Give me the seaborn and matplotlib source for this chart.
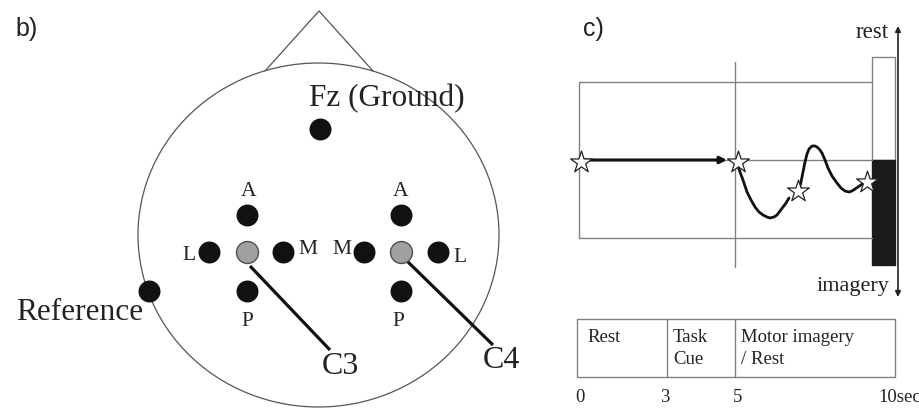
import matplotlib
matplotlib.use("Agg")
import matplotlib.pyplot as plt
from matplotlib.patches import Ellipse, Rectangle
import seaborn as sns

sns.set_theme(style="white")
plt.rcParams['font.family'] = ['Liberation Serif', 'DejaVu Serif']

# ---------------- data (pixel-space diagram) ----------------
# electrode positions (panel b)
black_x = [320, 247, 209, 283, 247, 401, 364, 438, 401, 149]
black_y = [129, 215, 252, 252, 291, 215, 252, 252, 291, 291]
center_x = [247, 401]
center_y = [252, 252]
elec_labels = ["A", "L", "M", "P", "A", "M", "L", "P"]
elec_lab_x = [249, 189, 308, 247, 401, 342, 460, 398]
elec_lab_y = [191, 256, 250, 321, 191, 250, 258, 321]

# panel c curve segments
seg1_x = [737, 740, 743, 747, 751, 755, 759, 763, 767, 770, 774, 777, 780, 783, 786, 789]
seg1_y = [163, 172, 180, 192, 200, 207, 212, 215, 217, 218, 217, 215, 211, 207, 203, 198]
seg2_x = [798, 800, 801, 803, 805, 807, 809, 812, 815, 817, 820, 822, 825, 828, 832, 837,
          841, 845, 849, 852, 855, 858, 861, 864]
seg2_y = [192, 186, 182, 172, 162, 154, 149, 146, 146, 147, 150, 153, 160, 168, 176, 183,
          188, 191, 192, 191, 189, 187, 185, 182]
star_x = [581, 738, 798, 867]
star_y = [162, 162, 191, 182]

# timeline
phase_labels = ["Rest", "Task\nCue", "Motor imagery\n/ Rest"]
tick_labels = ["0", "3", "5", "10sec"]

# ---------------- figure ----------------
fig = plt.figure(figsize=(9.2, 4.08), dpi=100)
ax = fig.add_axes([0, 0, 1, 1])
ax.set_xlim(0, 920)
ax.set_ylim(408, 0)
ax.axis('off')

txt = '#222222'

# ---- panel b ----
ax.text(15, 29, "b)", family=['Liberation Sans', 'DejaVu Sans'], fontsize=18,
        va='center', ha='left', color=txt)
ax.add_patch(Ellipse((318.5, 235), 361, 344, fill=False, ec='#555', lw=0.9))
ax.plot([265, 319, 373], [71, 11, 71], color='#555', lw=0.9)

ax.plot([250, 330], [266, 350], color='#111', lw=2.3, solid_capstyle='butt')
ax.plot([407, 493], [261, 345], color='#111', lw=2.3, solid_capstyle='butt')

sns.scatterplot(x=black_x, y=black_y, s=250, color='#111', linewidth=0, ax=ax, zorder=3)
sns.scatterplot(x=center_x, y=center_y, s=250, color='#a0a0a0', edgecolor='#505050',
                linewidth=1.0, ax=ax, zorder=3)

for t, x, y in zip(elec_labels, elec_lab_x, elec_lab_y):
    ax.text(x, y, t, fontsize=15.5, ha='center', va='center', color=txt)

ax.text(309, 99, "Fz (Ground)", fontsize=22.5, ha='left', va='center', color=txt)
ax.text(16, 313, "Reference", fontsize=22.5, ha='left', va='center', color=txt)
ax.text(340, 366, "C3", fontsize=23, ha='center', va='center', color=txt)
ax.text(501, 360, "C4", fontsize=23, ha='center', va='center', color=txt)

# ---- panel c ----
ax.text(583, 29, "c)", family=['Liberation Sans', 'DejaVu Sans'], fontsize=18,
        va='center', ha='left', color=txt)
g = '#808080'
ax.plot([872, 579, 579, 872], [82, 82, 238, 238], color=g, lw=1.0)
ax.plot([579, 872], [160, 160], color=g, lw=1.0)
ax.plot([735, 735], [62, 267], color=g, lw=1.0)
ax.add_patch(Rectangle((872, 57), 23, 103, fc='white', ec=g, lw=1.0))
ax.add_patch(Rectangle((872, 160), 23, 105, fc='#1a1a1a', ec='#1a1a1a', lw=1.0))

ax.annotate("", xy=(898, 26), xytext=(898, 297),
            arrowprops=dict(arrowstyle='<|-|>', color=txt, lw=1.2,
                            mutation_scale=8, shrinkA=0, shrinkB=0))
ax.text(889, 33, "rest", fontsize=16.5, ha='right', va='center', color=txt)
ax.text(889, 287, "imagery", fontsize=16, ha='right', va='center', color=txt)

ax.annotate("", xy=(727, 160), xytext=(583, 160),
            arrowprops=dict(arrowstyle='-|>', color='#111', lw=2.2,
                            mutation_scale=10, shrinkA=0, shrinkB=0))

for sx, sy in [(seg1_x, seg1_y), (seg2_x, seg2_y)]:
    sns.lineplot(x=sx, y=sy, sort=False, estimator=None, color='#111', lw=2.0, ax=ax,
                 solid_joinstyle='round', solid_capstyle='round')
sns.scatterplot(x=star_x, y=star_y, marker='*', s=270, color='white', edgecolor=txt,
                linewidth=0.9, ax=ax, zorder=4)

# timeline table
ax.add_patch(Rectangle((577, 319), 318, 58, fc='none', ec=g, lw=1.0))
ax.plot([667, 667], [319, 377], color=g, lw=1.0)
ax.plot([735, 735], [319, 377], color=g, lw=1.0)
for t, x in zip(phase_labels, [587, 673, 741]):
    ax.text(x, 329, t, fontsize=13.5, ha='left', va='top', color=txt, linespacing=1.4)
for t, x, ha in zip(tick_labels, [580, 665, 738, 878], ['center', 'center', 'center', 'left']):
    ax.text(x, 397, t, fontsize=13.5, ha=ha, va='center', color=txt)

fig.savefig("out.png", dpi=100)
